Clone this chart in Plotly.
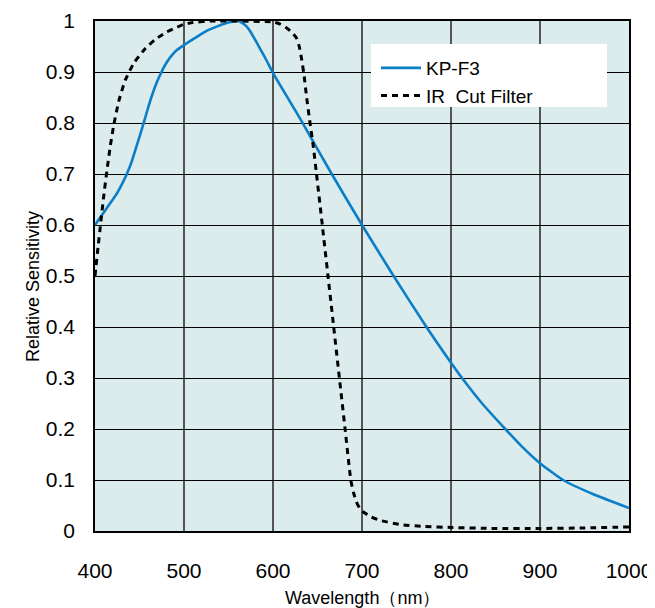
import plotly.graph_objects as go

# KP-F3 relative sensitivity
kp_wl = [400, 406, 411.6, 418, 424.7, 430, 436, 441, 445.3, 450, 454.7, 459, 464, 469, 473.4, 477, 481, 486.5, 492, 499.3,
         508, 518, 527, 536.7, 546, 555.4, 561, 566.6, 570, 574, 580, 585.4, 592, 600.4, 630, 666, 700, 735.5, 772.4,
         800, 812.4, 835, 861, 880, 900, 926, 960, 1000]
kp_val = [0.60, 0.615, 0.629, 0.645, 0.662, 0.679, 0.701, 0.723, 0.747, 0.773, 0.80, 0.826, 0.854, 0.878, 0.895, 0.908, 0.92, 0.933, 0.943, 0.952,
          0.962, 0.973, 0.982, 0.989, 0.995, 0.999, 1.0, 0.995, 0.99, 0.981, 0.963, 0.946, 0.925, 0.897, 0.81, 0.70, 0.60, 0.50, 0.40,
          0.330, 0.30, 0.25, 0.20, 0.165, 0.133, 0.10, 0.072, 0.045]

# IR Cut Filter transmission
ir_wl = [400, 403.4, 406, 409.7, 413.5, 417.2, 421, 426.6, 434, 443.5, 456.5, 467.8, 480, 490, 499.3, 510, 530, 600, 608, 614,
         619, 623, 626.6, 629.5, 632, 634.8, 637.8, 641.6, 645.3, 649, 655.4, 661.8, 668.2, 674.6, 681, 687.4, 690.5, 693.7,
         697, 701, 710, 720, 745, 770, 800, 850, 900, 950, 1000]
ir_val = [0.50, 0.557, 0.597, 0.655, 0.708, 0.755, 0.795, 0.842, 0.884, 0.917, 0.946, 0.964, 0.978, 0.986, 0.993, 0.997, 1.0, 0.998, 0.994, 0.988,
          0.981, 0.974, 0.966, 0.95, 0.927, 0.895, 0.85, 0.80, 0.754, 0.698, 0.60, 0.50, 0.40, 0.30, 0.20, 0.10, 0.075, 0.057,
          0.046, 0.038, 0.028, 0.021, 0.012, 0.009, 0.007, 0.005, 0.005, 0.006, 0.008]

x_ticks = [400, 500, 600, 700, 800, 900, 1000]
y_ticks = [0, 0.1, 0.2, 0.3, 0.4, 0.5, 0.6, 0.7, 0.8, 0.9, 1]
y_ticktext = ["0", "0.1", "0.2", "0.3", "0.4", "0.5", "0.6", "0.7", "0.8", "0.9", "1"]

x_title = "Wavelength（nm）"
y_title = "Relative Sensitivity"

FONT = "Liberation Sans, Arial, sans-serif"

# page body has an 8px margin: figure is placed at (8, 8)
OFF = 8
PL, PR, PT, PB = 95, 629, 21, 531   # plot area in page pixels
PW, PH = PR - PL, PB - PT

fig = go.Figure()
fig.add_trace(go.Scatter(x=kp_wl, y=kp_val, mode="lines", name="KP-F3",
                         line=dict(color="#0a7fc8", width=2.6, shape="spline", smoothing=0.5)))
fig.add_trace(go.Scatter(x=ir_wl, y=ir_val, mode="lines", name="IR  Cut Filter",
                         line=dict(color="black", width=3, dash="6px,5px", shape="spline", smoothing=0.5)))

# white legend panel (covers the curves like the reference box)
fig.add_shape(type="rect", xref="paper", yref="paper",
              x0=(371 - PL) / PW, x1=(607 - PL) / PW,
              y0=(PB - 107) / PH, y1=(PB - 44) / PH,
              fillcolor="white", line=dict(width=0), layer="above")

fig.add_annotation(text=x_title, xref="paper", yref="paper", x=(362 - PL) / PW, y=-(598 - PB) / PH,
                   xanchor="center", yanchor="middle", showarrow=False, font=dict(size=18))
fig.add_annotation(text=y_title, xref="paper", yref="paper", x=-(PL - 33) / PW, y=(PB - 287) / PH,
                   xanchor="center", yanchor="middle", textangle=-90, showarrow=False, font=dict(size=18))

fig.update_layout(
    width=655 - OFF, height=608 - OFF,
    margin=dict(l=PL - OFF, r=655 - PR, t=PT - OFF, b=608 - PB),
    paper_bgcolor="white",
    plot_bgcolor="#dcebec",
    font=dict(family=FONT, color="black", size=18),
    showlegend=True,
    legend=dict(x=(376 - PL) / PW, y=(PB - 49) / PH, xanchor="left", yanchor="top",
                bgcolor="rgba(0,0,0,0)", borderwidth=0, font=dict(size=19, family=FONT),
                tracegroupgap=0, itemwidth=40),
    xaxis=dict(range=[400, 1000], tickvals=x_ticks, ticks="", showgrid=True, automargin=False,
               gridcolor="#555555", gridwidth=1.5, showline=True, linecolor="black",
               linewidth=1.5, mirror=True, zeroline=False, ticklabelstandoff=20,
               tickfont=dict(size=21)),
    yaxis=dict(range=[0, 1], tickvals=y_ticks, ticktext=y_ticktext, ticks="", showgrid=True, automargin=False,
               gridcolor="black", gridwidth=1.2, showline=True, linecolor="black",
               linewidth=1.5, mirror=True, zeroline=False, ticklabelstandoff=14,
               tickfont=dict(size=21)),
)

fig.write_html("out.html")
